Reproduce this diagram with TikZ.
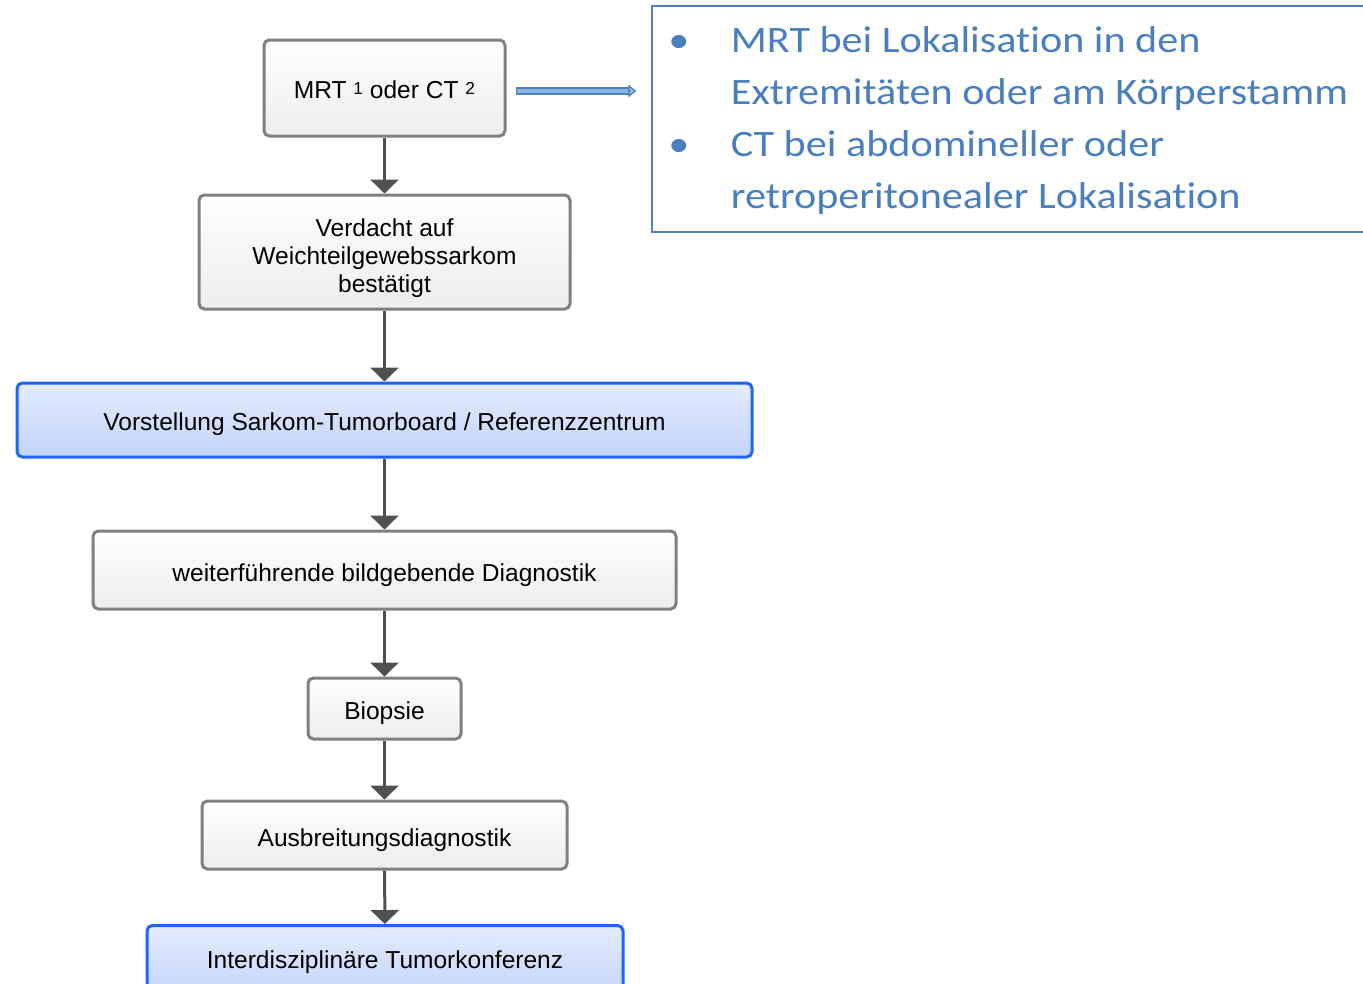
\documentclass[tikz,border=0pt]{standalone}
\usepackage{fontspec}
\setmainfont{Liberation Sans}
\newfontfamily\calib[FakeStretch=1.13,Ligatures=NoCommon]{Carlito}
\usetikzlibrary{arrows.meta,shadings}
\definecolor{grayline}{HTML}{808080}
\definecolor{arrowgray}{HTML}{505050}
\definecolor{blueline}{HTML}{1E64FF}
\definecolor{bluetop}{HTML}{E4ECFD}
\definecolor{bluebot}{HTML}{C2D4FB}
\definecolor{infoblue}{HTML}{4F81BD}
\definecolor{infotext}{HTML}{4A7EBF}
\definecolor{arrowfill}{HTML}{8DB3E2}
\newcommand{\lowr}[2]{\raisebox{-#1}[\height][\depth]{#2}}
\newcommand{\supnum}[1]{\raisebox{3.5pt}{\fontsize{13pt}{15pt}\selectfont #1}}
\tikzset{
  graybox/.style={draw=grayline, line width=2.25pt, rounded corners=4pt,
    top color=white, bottom color=black!7, align=center,
    font=\fontsize{18.4pt}{21pt}\selectfont, inner sep=0pt},
  bluebox/.style={draw=blueline, line width=2.25pt, rounded corners=4pt,
    top color=bluetop, bottom color=bluebot, align=center,
    font=\fontsize{18.4pt}{21pt}\selectfont, inner sep=0pt},
  flow/.style={draw=arrowgray, line width=2.25pt, -{Triangle[width=21pt,length=10.5pt]}},
}
\begin{document}
\begin{tikzpicture}[x=0.75pt,y=-0.75pt]
\useasboundingbox (0,0) rectangle (1363,983);
\node[graybox, minimum width=180.75pt, minimum height=72pt] (mrt) at (384.5,88)
  {\lowr{1.5pt}{MRT \supnum{1} oder CT \supnum{2}}};
\node[graybox, minimum width=278.25pt, minimum height=85.5pt] (verd) at (384.5,252)
  {\lowr{5.25pt}{\begin{tabular}{@{}c@{}}Verdacht auf\\Weichteilgewebssarkom\\bestätigt\end{tabular}}};
\node[bluebox, minimum width=551.25pt, minimum height=55.5pt] (vorst) at (384.5,420)
  {\lowr{3pt}{Vorstellung Sarkom-Tumorboard / Referenzzentrum}};
\node[graybox, minimum width=437.25pt, minimum height=58.5pt] (weiter) at (384.5,570)
  {\lowr{3.6pt}{weiterführende bildgebende Diagnostik}};
\node[graybox, minimum width=114.75pt, minimum height=45.75pt] (bio) at (384.5,708.5)
  {\lowr{3.6pt}{Biopsie}};
\node[graybox, minimum width=273.75pt, minimum height=51pt] (ausb) at (384.5,835)
  {\lowr{3.6pt}{Ausbreitungsdiagnostik}};
\node[bluebox, minimum width=357pt, minimum height=55.5pt, anchor=north] (inter) at (385,924)
  {Interdisziplinäre Tumorkonferenz};
\node[draw=infoblue, line width=1.2pt, minimum width=542pt, minimum height=169.5pt,
  anchor=north west, inner sep=0pt] (info) at (651,5) {};
\node[anchor=north west, inner sep=0pt, align=left, text=infotext,
  font=\calib\fontsize{28pt}{39pt}\selectfont] (infotxt) at (668,26)
  {\makebox[47pt][l]{•}MRT bei Lokalisation in den\\
   \hspace*{47pt}Extremitäten oder am Körperstamm\\
   \makebox[47pt][l]{•}CT bei abdomineller oder\\
   \hspace*{47pt}retroperitonealer Lokalisation};
\draw[flow] (mrt) -- (verd);
\draw[flow] (verd) -- (vorst);
\draw[flow] (vorst) -- (weiter);
\draw[flow] (weiter) -- (bio);
\draw[flow] (bio) -- (ausb);
\draw[flow] (ausb) -- (inter);
\draw[draw=infoblue, line width=5.5pt, -{Triangle[width=9.5pt,length=6pt,fill=arrowfill,line width=0.9pt]},
  shorten <=7pt, shorten >=11pt] ([yshift=-2.25pt]mrt.east) -- ([yshift=-2.25pt]mrt.east -| info.west);
\draw[draw=arrowfill, line width=3pt, shorten <=7.9pt, shorten >=17.5pt]
  ([yshift=-2.25pt]mrt.east) -- ([yshift=-2.25pt]mrt.east -| info.west);
\end{tikzpicture}
\end{document}
